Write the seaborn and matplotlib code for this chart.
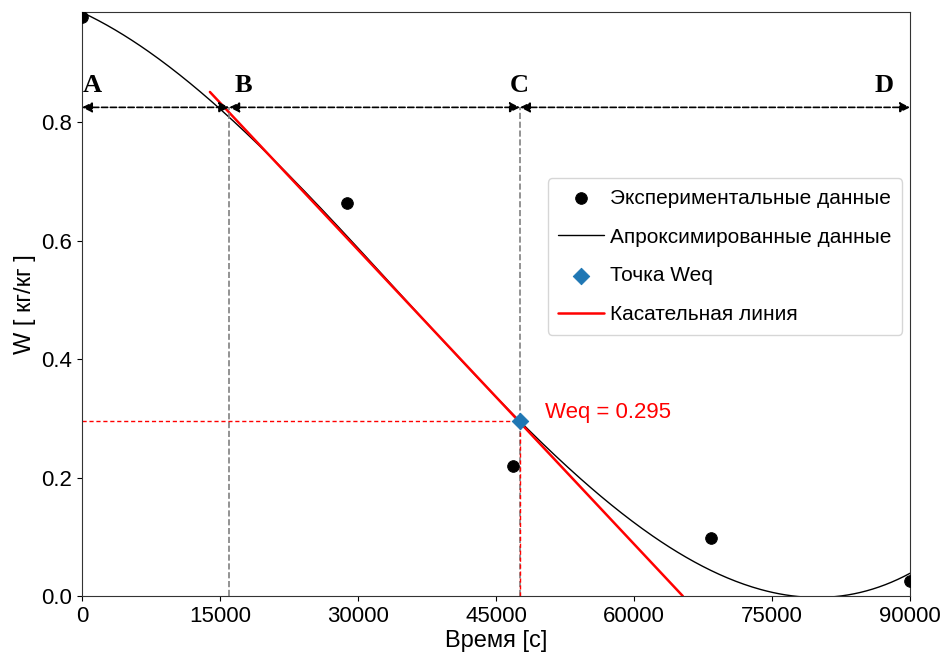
import numpy as np
import pandas as pd
import seaborn as sns
import matplotlib.pyplot as plt

time_s = [0, 28800, 46800, 68400, 90000]
moisture = [0.977, 0.663, 0.219, 0.098, 0.025]

# equilibrium point and tangent line ends
weq_t = 47600
weq = 0.295
tangent_t = [13900, 65300]
tangent_w = [0.851, 0.0]

# stage borders A | B | C | D
stage_t = [0, 16000, 47600, 90000]
stage_names = ["A", "B", "C", "D"]
stage_label_t = [1100, 17500, 47500, 87200]
arrow_w = 0.825

sns.set_style("ticks", {"text.color": "black", "axes.labelcolor": "black",
                        "xtick.color": "black", "ytick.color": "black",
                        "axes.edgecolor": "#333333"})
plt.rcParams["font.family"] = ["Liberation Sans", "DejaVu Sans"]

fig, ax = plt.subplots(figsize=(9.49, 6.66), dpi=100)
fig.subplots_adjust(left=0.0864, right=0.959, top=0.982, bottom=0.105)

# cubic approximation of the data
coef = np.polyfit(time_s, moisture, 3)
t_fit = np.linspace(0, 90000, 400)
w_fit = np.polyval(coef, t_fit)

df = pd.DataFrame({"t": time_s, "w": moisture})
fit = pd.DataFrame({"t": t_fit, "w": w_fit})
tan = pd.DataFrame({"t": tangent_t, "w": tangent_w})

sns.scatterplot(data=df, x="t", y="w", color="black", s=70, edgecolor="black",
                label="Экспериментальные данные", ax=ax, zorder=4)
sns.lineplot(data=fit, x="t", y="w", color="black", linewidth=1,
             label="Апроксимированные данные", ax=ax)
sns.scatterplot(x=[weq_t], y=[weq], marker="D", color="#1f77b4", s=70,
                edgecolor="#1f77b4", label="Точка Weq", ax=ax, zorder=5)
sns.lineplot(data=tan, x="t", y="w", color="red", linewidth=1.8,
             label="Касательная линия", ax=ax)

# stage borders
for t in stage_t[1:3]:
    ax.plot([t, t], [0, arrow_w], ls="--", color="gray", lw=1.2)
ax.plot([weq_t, weq_t], [0, weq], ls="--", dashes=(3, 2), color="red", lw=1.0)
ax.plot([0, weq_t], [weq, weq], ls="--", dashes=(3, 2), color="red", lw=1.0)

for i in range(3):
    ax.annotate("", xy=(stage_t[i + 1], arrow_w), xytext=(stage_t[i], arrow_w),
                arrowprops=dict(arrowstyle="<|-|>", ls="--", color="black",
                                lw=1.2, shrinkA=0, shrinkB=0,
                                mutation_scale=15))
for name, t in zip(stage_names, stage_label_t):
    ax.text(t, 0.862, name, fontsize=19, fontweight="bold", family="Liberation Serif",
            ha="center", va="center")

ax.text(50300, 0.31, f"Weq = {weq}", color="red", fontsize=16, va="center")

ax.set_xlim(0, 90000)
ax.set_ylim(0, 0.986)
ax.set_xticks([0, 15000, 30000, 45000, 60000, 75000, 90000])
ax.set_yticks([0.0, 0.2, 0.4, 0.6, 0.8])
ax.tick_params(labelsize=16)
ax.set_xlabel("Время [с]", fontsize=17, labelpad=2)
ax.set_ylabel("W [ кг/кг ]", fontsize=17, labelpad=4)

ax.legend(loc="upper right", bbox_to_anchor=(1.003, 0.733), fontsize=15,
          frameon=True, borderpad=0.5, labelspacing=0.95, handlelength=2.2,
          handletextpad=0.3)

fig.savefig("out.png", dpi=100)
